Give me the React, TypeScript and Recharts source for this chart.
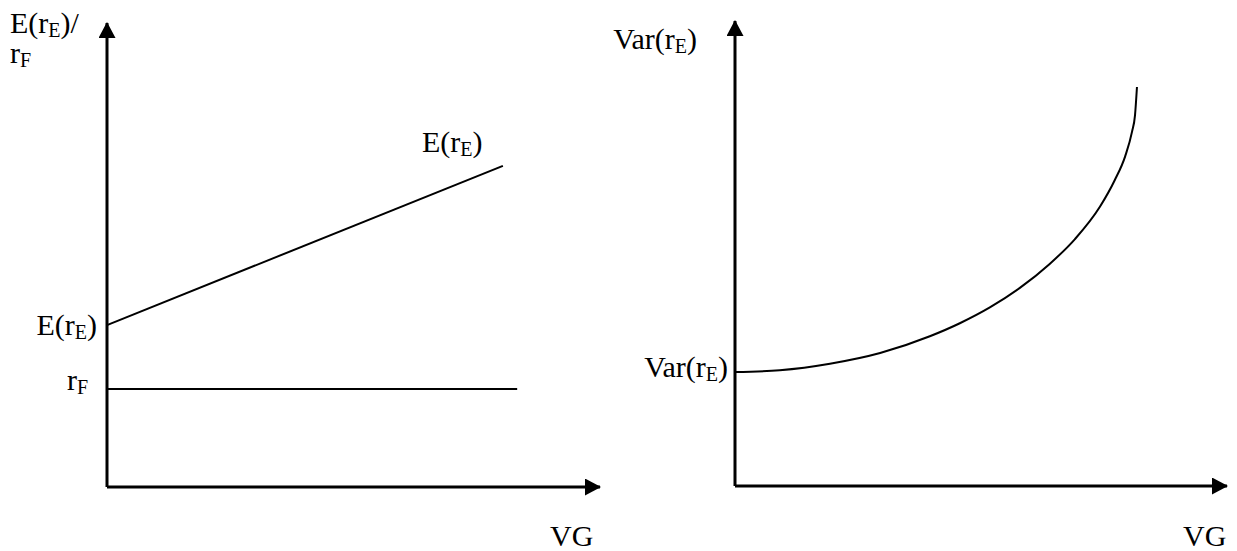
import React from 'react';
import { LineChart, Line, XAxis, YAxis, Customized } from 'recharts';

// left panel: expected return and risk-free rate against VG
const expVG = [0, 80.3];
const expReturn = [34.9, 69.2];
const rfVG = [0, 83.2];
const rfReturn = [21.1, 21.1];

// right panel: variance against VG
const varVG = [0, 9.1, 19.3, 29.5, 39.6, 45.7, 51.8, 57.9, 63.9, 69.1, 74.2, 77.2, 79.3, 80.7, 81.3, 81.7];
const varValue = [24.5, 24.9, 26.3, 28.6, 32.2, 35.0, 38.4, 42.6, 47.7, 53.1, 60.1, 65.8, 70.9, 76.2, 79.7, 85.8];

const toPoints = (xs: number[], ys: number[]) => xs.map((x, i) => ({ x, y: ys[i] }));

const FONT = '"Liberation Serif", "Times New Roman", serif';

const Arrow = ({ id }: { id: string }) => (
  <defs>
    <marker
      id={id}
      markerUnits="userSpaceOnUse"
      markerWidth={16}
      markerHeight={17}
      refX={15}
      refY={8.5}
      orient="auto-start-reverse"
    >
      <path d="M0,0 L16,8.5 L0,17 z" fill="#000" />
    </marker>
  </defs>
);

// text with a subscript, e.g. E(r_E)
const Sub = ({ x, y, pre, sub, post = '', anchor = 'start' }: any) => (
  <text x={x} y={y} fontFamily={FONT} fontSize={30} fill="#000" textAnchor={anchor}>
    {pre}
    <tspan fontSize={20} dy={4}>{sub}</tspan>
    {post ? <tspan dy={-4}>{post}</tspan> : null}
  </text>
);

const Labels = () => (
  <svg
    width={1237}
    height={551}
    style={{ position: 'absolute', left: 0, top: 0, pointerEvents: 'none', overflow: 'visible' }}
  >
    <Sub x={10} y={33} pre="E(r" sub="E" post=")/" />
    <Sub x={10} y={63} pre="r" sub="F" />
    <Sub x={97} y={335} pre="E(r" sub="E" post=")" anchor="end" />
    <Sub x={88} y={390} pre="r" sub="F" anchor="end" />
    <Sub x={422} y={152} pre="E(r" sub="E" post=")" />
    <text x={550} y={546} fontFamily={FONT} fontSize={30} fill="#000">VG</text>
    <Sub x={697} y={49} pre="Var(r" sub="E" post=")" anchor="end" />
    <Sub x={728} y={377} pre="Var(r" sub="E" post=")" anchor="end" />
    <text x={1183} y={546} fontFamily={FONT} fontSize={30} fill="#000">VG</text>
  </svg>
);

const axisStyle = (id: string, start: boolean) => ({
  stroke: '#000',
  strokeWidth: 3,
  ...(start ? { markerStart: `url(#${id})` } : { markerEnd: `url(#${id})` }),
});

export default function App() {
  return (
    <div style={{ position: 'absolute', left: 0, top: 0, width: 1237, height: 551, background: '#fff' }}>
      <div style={{ position: 'absolute', left: 0, top: 0 }}>
        <LineChart width={620} height={551} margin={{ top: 23, right: 20, bottom: 63, left: 106 }}>
          <XAxis
            type="number"
            dataKey="x"
            domain={[0, 100]}
            height={1}
            tick={false}
            tickLine={false}
            stroke="#000"
            axisLine={axisStyle('arrowL', false)}
          />
          <YAxis
            type="number"
            dataKey="y"
            domain={[0, 100]}
            width={1}
            tick={false}
            tickLine={false}
            stroke="#000"
            axisLine={axisStyle('arrowL', true)}
          />
          <Line
            data={toPoints(expVG, expReturn)}
            dataKey="y"
            type="linear"
            stroke="#000"
            strokeWidth={2}
            dot={false}
            isAnimationActive={false}
          />
          <Line
            data={toPoints(rfVG, rfReturn)}
            dataKey="y"
            type="linear"
            stroke="#000"
            strokeWidth={2}
            dot={false}
            isAnimationActive={false}
          />
          <Customized component={() => <Arrow id="arrowL" />} />
        </LineChart>
      </div>
      <div style={{ position: 'absolute', left: 620, top: 0 }}>
        <LineChart width={617} height={551} margin={{ top: 21, right: 10, bottom: 64, left: 114 }}>
          <XAxis
            type="number"
            dataKey="x"
            domain={[0, 100]}
            height={1}
            tick={false}
            tickLine={false}
            stroke="#000"
            axisLine={axisStyle('arrowR', false)}
          />
          <YAxis
            type="number"
            dataKey="y"
            domain={[0, 100]}
            width={1}
            tick={false}
            tickLine={false}
            stroke="#000"
            axisLine={axisStyle('arrowR', true)}
          />
          <Line
            data={toPoints(varVG, varValue)}
            dataKey="y"
            type="monotone"
            stroke="#000"
            strokeWidth={2}
            dot={false}
            isAnimationActive={false}
          />
          <Customized component={() => <Arrow id="arrowR" />} />
        </LineChart>
      </div>
      <Labels />
    </div>
  );
}
